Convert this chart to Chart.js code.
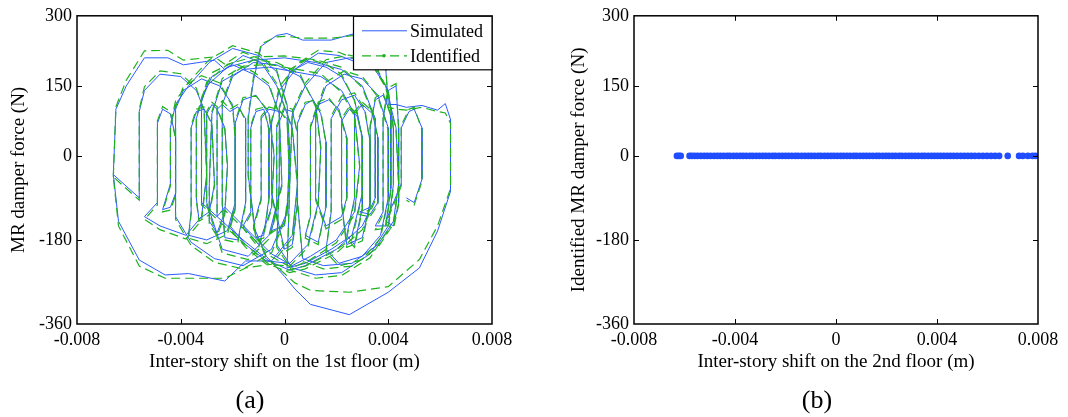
<!DOCTYPE html>
<html>
<head>
<meta charset="utf-8">
<title>MR damper force</title>
<script src="https://cdn.jsdelivr.net/npm/chart.js@4.4.0/dist/chart.umd.min.js"></script>
<style>
  html, body { margin: 0; padding: 0; background: #fff; }
  #wrap { position: relative; width: 1068px; height: 417px; overflow: hidden; }
  .panel { position: absolute; top: 0; width: 534px; height: 417px; }
  .tag { position: absolute; top: 386px; line-height: 28px; font-family: 'Liberation Serif', 'Times New Roman', serif; font-size: 26px; color: #000; transform: translateX(-50%); }
</style>
</head>
<body>
<div id="wrap">
  <div class="panel" style="left:0"><canvas id="floor1Chart" width="534" height="417"></canvas></div>
  <div class="panel" style="left:534px"><canvas id="floor2Chart" width="534" height="417"></canvas></div>
  <div class="tag" style="left:250px">(a)</div>
  <div class="tag" style="left:817px">(b)</div>
</div>
<script>
// 축 눈금
const shiftTicks = [-0.008, -0.004, 0, 0.004, 0.008];
const forceTicks = [-360, -180, 0, 150, 300];

// 1층 층간변위 - 감쇠력 [변위(m), 힘(N)] : 시뮬레이션
const simulated1st = [
    [-0.0066, -40], [-0.0065, 100], [-0.0061, 150], [-0.0054, 210], [-0.0045, 210], [-0.0039, 195], [-0.0027, 205], [-0.0023, 185], [-0.0016, 215], [-0.0009, 200], [-0.0003, 150], [0.0003, 60], [0.0005, -60], [0.0003, -170], [-0.0005, -225], [-0.0015, -225], [-0.0023, -268], [-0.0037, -252], [-0.0046, -255], [-0.0056, -223], [-0.0064, -140], [-0.0066, -40],
    [-0.0056, -90], [-0.0056, 95], [-0.0054, 140], [-0.0048, 175], [-0.0040, 170], [-0.0034, 140], [-0.0031, 100], [-0.0030, -40], [-0.0032, -130], [-0.0038, -170], [-0.0048, -150], [-0.0054, -130],
    [-0.0049, -100], [-0.0049, 70], [-0.0047, 100], [-0.0044, 90], [-0.0042, 40], [-0.0042, -80], [-0.0044, -110], [-0.0047, -115],
    [-0.0044, -60], [-0.0044, 60], [-0.0042, 110], [-0.0037, 150], [-0.0029, 200], [-0.0020, 230], [-0.0010, 215], [-0.0003, 180], [0.0001, 110], [0.0002, 10], [0.0001, -120], [-0.0005, -200], [-0.0016, -235], [-0.0027, -220], [-0.0036, -185], [-0.0042, -130],
    [-0.0042, -120], [-0.0042, 100], [-0.0039, 140], [-0.0032, 165], [-0.0025, 150], [-0.0020, 110], [-0.0019, 40], [-0.0019, -100], [-0.0022, -160], [-0.0030, -180], [-0.0037, -170],
    [-0.0036, -120], [-0.0036, 60], [-0.0034, 95], [-0.0031, 100], [-0.0028, 70], [-0.0027, -60], [-0.0029, -120], [-0.0033, -135],
    [-0.0034, -90], [-0.0034, 80], [-0.0030, 150], [-0.0022, 190], [-0.0012, 205], [0.0000, 210], [0.0012, 200], [0.0022, 185], [0.0030, 150], [0.0035, 80], [0.0035, -90], [0.0030, -150], [0.0020, -200], [0.0008, -235], [0.0002, -245], [-0.0006, -225], [-0.0016, -180], [-0.0026, -130],
    [-0.0032, -100], [-0.0032, 120], [-0.0028, 170], [-0.0020, 195], [-0.0012, 175], [-0.0006, 150], [-0.0002, 90], [-0.0001, -60], [-0.0006, -170], [-0.0014, -215], [-0.0024, -200],
    [-0.0030, -100], [-0.0030, 90], [-0.0028, 110], [-0.0026, 100], [-0.0023, 60], [-0.0022, -20], [-0.0023, -120], [-0.0026, -165], [-0.0029, -140],
    [-0.0029, -60], [-0.0028, 90], [-0.0024, 160], [-0.0016, 185], [-0.0006, 190], [0.0004, 180], [0.0014, 170], [0.0022, 140], [0.0027, 90], [0.0029, -20], [0.0027, -120], [0.0020, -180], [0.0010, -215], [0.0003, -235], [-0.0005, -210], [-0.0014, -160], [-0.0023, -110],
    [-0.0026, -130], [-0.0026, 100], [-0.0024, 110], [-0.0021, 95], [-0.0018, 105], [-0.0015, 80], [-0.0015, -100], [-0.0018, -180], [-0.0023, -175],
    [-0.0024, -100], [-0.0024, 110], [-0.0020, 170], [-0.0012, 200], [-0.0003, 195], [0.0006, 170], [0.0012, 110], [0.0014, 20], [0.0013, -100], [0.0009, -190], [0.0002, -230], [-0.0007, -225], [-0.0015, -190], [-0.0021, -150],
    [-0.0019, -110], [-0.0019, 70], [-0.0016, 120], [-0.0011, 130], [-0.0006, 90], [-0.0004, 0], [-0.0005, -110], [-0.0010, -190], [-0.0016, -150],
    [-0.0013, -120], [-0.0013, 60], [-0.0011, 95], [-0.0008, 100], [-0.0006, 60], [-0.0006, -90], [-0.0008, -170], [-0.0011, -175],
    [-0.0014, -40], [-0.0014, 80], [-0.0012, 160], [-0.0009, 235], [-0.0003, 258], [0.0001, 262], [0.0007, 248], [0.0018, 248], [0.0027, 262], [0.0034, 265], [0.0039, 190], [0.0040, 110], [0.0043, 110], [0.0047, 104], [0.0053, 108], [0.0059, 98], [0.0062, 112], [0.0064, 78], [0.0064, -76], [0.0059, -161], [0.0052, -240], [0.0040, -292], [0.0025, -340], [0.0010, -318], [0.0004, -285], [0.0000, -258], [-0.0007, -215], [-0.0012, -150],
    [-0.0009, -90], [-0.0009, 80], [-0.0006, 100], [-0.0002, 95], [0.0001, 80], [0.0002, -60], [0.0000, -150], [-0.0005, -160],
    [-0.0003, -110], [-0.0003, 60], [0.0000, 100], [0.0003, 95], [0.0005, 50], [0.0005, -100], [0.0003, -190], [0.0000, -200],
    [-0.0005, -80], [-0.0005, 70], [-0.0002, 140], [0.0005, 190], [0.0013, 220], [0.0021, 215], [0.0028, 200], [0.0035, 190], [0.0040, 140], [0.0042, 60], [0.0042, -60], [0.0040, -150], [0.0033, -210], [0.0022, -250], [0.0012, -255], [0.0003, -240], [-0.0003, -190],
    [-0.0002, -50], [-0.0002, 100], [0.0002, 180], [0.0009, 200], [0.0016, 190], [0.0022, 170], [0.0027, 120], [0.0030, 40], [0.0030, -80], [0.0026, -170], [0.0018, -200], [0.0008, -230], [0.0001, -240],
    [0.0002, -60], [0.0003, 90], [0.0008, 150], [0.0016, 200], [0.0025, 210], [0.0033, 200], [0.0039, 150], [0.0043, 60], [0.0044, -60], [0.0042, -140], [0.0036, -190], [0.0026, -230], [0.0015, -235], [0.0007, -220],
    [0.0005, -100], [0.0005, 70], [0.0008, 110], [0.0011, 120], [0.0014, 90], [0.0016, 30], [0.0016, -110], [0.0013, -185], [0.0008, -170],
    [0.0010, -130], [0.0010, 60], [0.0013, 110], [0.0017, 120], [0.0021, 100], [0.0024, 40], [0.0024, -90], [0.0022, -130], [0.0016, -150],
    [0.0012, -90], [0.0012, 90], [0.0016, 150], [0.0023, 175], [0.0030, 165], [0.0036, 130], [0.0040, 60], [0.0040, -90], [0.0037, -170], [0.0030, -215], [0.0021, -230], [0.0016, -200],
    [0.0018, -120], [0.0018, 80], [0.0022, 120], [0.0027, 130], [0.0031, 95], [0.0033, 30], [0.0033, -100], [0.0030, -175], [0.0024, -190],
    [0.0022, -100], [0.0022, 75], [0.0025, 100], [0.0028, 85], [0.0030, 40], [0.0030, -110], [0.0027, -190], [0.0024, -170],
    [0.0027, -90], [0.0027, 90], [0.0030, 110], [0.0034, 90], [0.0036, 40], [0.0036, -100], [0.0033, -125], [0.0029, -120],
    [0.0033, -110], [0.0033, 60], [0.0035, 120], [0.0038, 130], [0.0041, 90], [0.0041, -70], [0.0039, -150], [0.0035, -150],
    [0.0038, -120], [0.0038, 80], [0.0040, 140], [0.0043, 150], [0.0044, 60], [0.0044, -100], [0.0042, -150], [0.0039, -140],
    [0.0045, -60], [0.0045, 60], [0.0048, 95], [0.0050, 100], [0.0053, 60], [0.0053, -50], [0.0050, -100], [0.0047, -90]
];

// 1층 층간변위 - 감쇠력 : 식별 결과
const identified1st = [
    [-0.0066, -45], [-0.0065, 105], [-0.0061, 162], [-0.0054, 225], [-0.0045, 226], [-0.0039, 205], [-0.0027, 212], [-0.0023, 196], [-0.0016, 222], [-0.0009, 206], [-0.0003, 155], [0.0003, 55], [0.0005, -65], [0.0003, -176], [-0.0005, -232], [-0.0015, -240], [-0.0023, -262], [-0.0037, -262], [-0.0046, -262], [-0.0056, -236], [-0.0064, -150], [-0.0066, -45],
    [-0.0056, -95], [-0.0056, 100], [-0.0054, 148], [-0.0048, 182], [-0.0040, 176], [-0.0034, 145], [-0.0031, 95], [-0.0030, -45], [-0.0032, -138], [-0.0038, -178], [-0.0048, -158], [-0.0054, -136],
    [-0.0049, -105], [-0.0049, 75], [-0.0047, 106], [-0.0044, 95], [-0.0042, 35], [-0.0042, -85], [-0.0044, -116], [-0.0047, -120],
    [-0.0044, -65], [-0.0044, 65], [-0.0042, 118], [-0.0037, 158], [-0.0029, 206], [-0.0020, 236], [-0.0010, 220], [-0.0003, 184], [0.0001, 105], [0.0002, 5], [0.0001, -126], [-0.0005, -208], [-0.0016, -242], [-0.0027, -228], [-0.0036, -192], [-0.0042, -136],
    [-0.0042, -125], [-0.0042, 105], [-0.0039, 148], [-0.0032, 172], [-0.0025, 156], [-0.0020, 105], [-0.0019, 35], [-0.0019, -105], [-0.0022, -168], [-0.0030, -188], [-0.0037, -176],
    [-0.0036, -125], [-0.0036, 65], [-0.0034, 100], [-0.0031, 105], [-0.0028, 65], [-0.0027, -65], [-0.0029, -126], [-0.0033, -140],
    [-0.0034, -95], [-0.0034, 85], [-0.0030, 158], [-0.0022, 196], [-0.0012, 212], [0.0000, 214], [0.0012, 206], [0.0022, 190], [0.0030, 146], [0.0035, 75], [0.0035, -95], [0.0030, -158], [0.0020, -208], [0.0008, -242], [0.0002, -250], [-0.0006, -232], [-0.0016, -186], [-0.0026, -136],
    [-0.0032, -105], [-0.0032, 125], [-0.0028, 178], [-0.0020, 200], [-0.0012, 180], [-0.0006, 155], [-0.0002, 85], [-0.0001, -65], [-0.0006, -178], [-0.0014, -222], [-0.0024, -208],
    [-0.0030, -105], [-0.0030, 95], [-0.0028, 115], [-0.0026, 105], [-0.0023, 55], [-0.0022, -25], [-0.0023, -125], [-0.0026, -172], [-0.0029, -145],
    [-0.0029, -65], [-0.0028, 95], [-0.0024, 166], [-0.0016, 192], [-0.0006, 196], [0.0004, 186], [0.0014, 176], [0.0022, 136], [0.0027, 85], [0.0029, -25], [0.0027, -126], [0.0020, -186], [0.0010, -222], [0.0003, -240], [-0.0005, -216], [-0.0014, -166], [-0.0023, -116],
    [-0.0026, -125], [-0.0026, 105], [-0.0024, 118], [-0.0021, 100], [-0.0018, 110], [-0.0015, 75], [-0.0015, -105], [-0.0018, -186], [-0.0023, -180],
    [-0.0024, -105], [-0.0024, 115], [-0.0020, 176], [-0.0012, 206], [-0.0003, 200], [0.0006, 175], [0.0012, 105], [0.0014, 15], [0.0013, -105], [0.0009, -196], [0.0002, -236], [-0.0007, -232], [-0.0015, -196], [-0.0021, -156],
    [-0.0019, -115], [-0.0019, 75], [-0.0016, 125], [-0.0011, 128], [-0.0006, 95], [-0.0004, 5], [-0.0005, -115], [-0.0010, -196], [-0.0016, -155],
    [-0.0013, -125], [-0.0013, 65], [-0.0011, 100], [-0.0008, 104], [-0.0006, 55], [-0.0006, -95], [-0.0008, -176], [-0.0011, -180],
    [-0.0014, -45], [-0.0014, 85], [-0.0012, 168], [-0.0009, 240], [-0.0003, 255], [0.0001, 256], [0.0007, 252], [0.0018, 252], [0.0027, 258], [0.0034, 258], [0.0039, 196], [0.0040, 104], [0.0043, 100], [0.0047, 98], [0.0053, 104], [0.0059, 95], [0.0062, 92], [0.0064, 70], [0.0064, -70], [0.0059, -150], [0.0052, -222], [0.0040, -280], [0.0025, -292], [0.0010, -288], [0.0004, -272], [0.0000, -252], [-0.0007, -218], [-0.0012, -156],
    [-0.0009, -95], [-0.0009, 85], [-0.0006, 105], [-0.0002, 98], [0.0001, 75], [0.0002, -55], [0.0000, -145], [-0.0005, -165],
    [-0.0003, -115], [-0.0003, 65], [0.0000, 106], [0.0003, 100], [0.0005, 45], [0.0005, -105], [0.0003, -196], [0.0000, -206],
    [-0.0005, -85], [-0.0005, 75], [-0.0002, 148], [0.0005, 198], [0.0013, 226], [0.0021, 222], [0.0028, 206], [0.0035, 195], [0.0040, 138], [0.0042, 55], [0.0042, -65], [0.0040, -158], [0.0033, -218], [0.0022, -256], [0.0012, -262], [0.0003, -246], [-0.0003, -196],
    [-0.0002, -55], [-0.0002, 105], [0.0002, 185], [0.0009, 208], [0.0016, 196], [0.0022, 175], [0.0027, 118], [0.0030, 35], [0.0030, -85], [0.0026, -178], [0.0018, -208], [0.0008, -236], [0.0001, -245],
    [0.0002, -65], [0.0003, 95], [0.0008, 156], [0.0016, 206], [0.0025, 216], [0.0033, 204], [0.0039, 146], [0.0043, 55], [0.0044, -65], [0.0042, -146], [0.0036, -196], [0.0026, -236], [0.0015, -242], [0.0007, -226],
    [0.0005, -95], [0.0005, 75], [0.0008, 115], [0.0011, 118], [0.0014, 95], [0.0016, 25], [0.0016, -105], [0.0013, -190], [0.0008, -176],
    [0.0010, -125], [0.0010, 65], [0.0013, 115], [0.0017, 125], [0.0021, 95], [0.0024, 35], [0.0024, -95], [0.0022, -136], [0.0016, -156],
    [0.0012, -95], [0.0012, 95], [0.0016, 158], [0.0023, 182], [0.0030, 170], [0.0036, 126], [0.0040, 55], [0.0040, -95], [0.0037, -176], [0.0030, -222], [0.0021, -236], [0.0016, -206],
    [0.0018, -115], [0.0018, 85], [0.0022, 128], [0.0027, 135], [0.0031, 100], [0.0033, 25], [0.0033, -105], [0.0030, -182], [0.0024, -196],
    [0.0022, -105], [0.0022, 80], [0.0025, 106], [0.0028, 90], [0.0030, 35], [0.0030, -115], [0.0027, -196], [0.0024, -176],
    [0.0027, -95], [0.0027, 95], [0.0030, 115], [0.0034, 95], [0.0036, 35], [0.0036, -105], [0.0033, -130], [0.0029, -126],
    [0.0033, -115], [0.0033, 65], [0.0035, 125], [0.0038, 135], [0.0041, 85], [0.0041, -75], [0.0039, -155], [0.0035, -158],
    [0.0038, -125], [0.0038, 85], [0.0040, 146], [0.0043, 155], [0.0044, 55], [0.0044, -105], [0.0042, -156], [0.0039, -146],
    [0.0045, -65], [0.0045, 65], [0.0048, 100], [0.0050, 104], [0.0053, 55], [0.0053, -55], [0.0050, -105], [0.0047, -95]
];

// 2층 층간변위 (식별된 감쇠력은 모두 0 N)
const shift2nd = [
    -0.0063, -0.00622, -0.00615, -0.0058, -0.00571, -0.0056, -0.00548, -0.00535, -0.00522, -0.0051,
    -0.00497, -0.00483, -0.0047, -0.00458, -0.00445, -0.00431, -0.0042, -0.00406, -0.00393, -0.0038,
    -0.00368, -0.00355, -0.00341, -0.0033, -0.00316, -0.00303, -0.0029, -0.00278, -0.00265, -0.00251,
    -0.0024, -0.00226, -0.00213, -0.002, -0.00188, -0.00175, -0.00161, -0.0015, -0.00136, -0.00123,
    -0.0011, -0.00098, -0.00085, -0.00071, -0.0006, -0.00046, -0.00033, -0.0002, -0.00008, 0.00005,
    0.00018, 0.0003, 0.00043, 0.00056, 0.0007, 0.00081, 0.00095, 0.00108, 0.0012, 0.00133,
    0.00146, 0.0016, 0.00171, 0.00185, 0.00198, 0.0021, 0.00223, 0.00236, 0.0025, 0.00261,
    0.00275, 0.00288, 0.003, 0.00313, 0.00326, 0.0034, 0.00351, 0.00365, 0.00378, 0.0039,
    0.00402, 0.00414, 0.00427, 0.0044, 0.00453, 0.00466, 0.0048, 0.00494, 0.00508, 0.00522,
    0.00536, 0.0055, 0.00566, 0.00582, 0.00598, 0.00614, 0.0063, 0.00646, 0.0068, 0.00725,
    0.0074, 0.0076, 0.00778, 0.0079
];
const force2nd = 0;

const serif = "'Liberation Serif', 'Times New Roman', serif";
const BLUE = '#2a5bff';
const GREEN = '#1fb21f';

// 네 변 모두 안쪽 눈금 + 테두리
const boxFrame = {
    id: 'boxFrame',
    afterDatasetsDraw(chart) {
        const { ctx, chartArea: a, scales: { x, y } } = chart;
        const len = 5;
        ctx.save();
        ctx.strokeStyle = '#000';
        ctx.lineWidth = 1;
        ctx.beginPath();
        x.ticks.forEach((t, i) => {
            if (i === 0 || i === x.ticks.length - 1) return;
            const px = Math.round(x.getPixelForValue(t.value)) + 0.5;
            ctx.moveTo(px, a.bottom); ctx.lineTo(px, a.bottom - len);
            ctx.moveTo(px, a.top); ctx.lineTo(px, a.top + len);
        });
        y.ticks.forEach((t, i) => {
            if (i === 0 || i === y.ticks.length - 1) return;
            const py = Math.round(y.getPixelForValue(t.value)) + 0.5;
            ctx.moveTo(a.left, py); ctx.lineTo(a.left + len, py);
            ctx.moveTo(a.right, py); ctx.lineTo(a.right - len, py);
        });
        ctx.stroke();
        ctx.lineWidth = 1.5;
        ctx.strokeRect(a.left, a.top, a.right - a.left, a.bottom - a.top);
        ctx.restore();
    }
};

// 오른쪽 위 범례 상자
const legendBox = {
    id: 'legendBox',
    afterDraw(chart) {
        const { ctx, chartArea: a } = chart;
        const ds = chart.data.datasets;
        const left = a.right - 139, top = a.top, w = 139, h = 54;
        ctx.save();
        ctx.fillStyle = '#fff';
        ctx.fillRect(left, top, w, h);
        ctx.strokeStyle = '#000';
        ctx.lineWidth = 1.2;
        ctx.strokeRect(left + 0.5, top + 0.5, w - 0.5, h - 0.5);

        ctx.font = '18px ' + serif;
        ctx.textBaseline = 'middle';
        ds.forEach((d, i) => {
            const ly = top + 15 + i * 25;
            ctx.strokeStyle = d.borderColor;
            ctx.lineWidth = d.borderWidth;
            ctx.setLineDash(d.borderDash || []);
            ctx.beginPath();
            ctx.moveTo(left + 9, ly);
            ctx.lineTo(left + 54, ly);
            ctx.stroke();
            ctx.setLineDash([]);
            if (d.borderDash) {
                ctx.fillStyle = d.borderColor;
                ctx.beginPath();
                ctx.arc(left + 31, ly, 1.8, 0, Math.PI * 2);
                ctx.fill();
            }
            ctx.fillStyle = '#000';
            ctx.fillText(d.label, left + 57, ly + 1);
        });
        ctx.restore();
    }
};

function formatTick(v) {
    return v === 0 ? '0' : String(v);
}

// x, y 축 공통 설정
function buildScales(xTitle, yTitle, yAxisWidth, yTitlePad) {
    return {
        x: {
            type: 'linear',
            min: -0.008,
            max: 0.008,
            grid: { display: false, drawTicks: false },
            border: { display: false },
            afterBuildTicks: s => { s.ticks = shiftTicks.map(v => ({ value: v })); },
            afterFit: s => { s.height = 93; },
            ticks: {
                color: '#000',
                padding: 5,
                maxRotation: 0,
                autoSkip: false,
                font: { family: serif, size: 18 },
                callback: v => formatTick(v)
            },
            title: {
                display: true,
                text: xTitle,
                color: '#000',
                font: { family: serif, size: 19 },
                padding: { top: 0, bottom: 43.6 }
            }
        },
        y: {
            type: 'linear',
            min: -360,
            max: 300,
            grid: { display: false, drawTicks: false },
            border: { display: false },
            afterBuildTicks: s => { s.ticks = forceTicks.map(v => ({ value: v })); },
            afterFit: s => { s.width = yAxisWidth; },
            ticks: {
                color: '#000',
                padding: 5,
                autoSkip: false,
                font: { family: serif, size: 18 },
                callback: v => formatTick(v)
            },
            title: {
                display: true,
                text: yTitle,
                color: '#000',
                font: { family: serif, size: 19 },
                padding: { top: yTitlePad, bottom: 0 }
            }
        }
    };
}

// (a) 1층 이력곡선
function renderFloor1Chart() {
    const ctx = document.getElementById('floor1Chart').getContext('2d');
    window.floor1Chart = new Chart(ctx, {
        type: 'scatter',
        data: {
            datasets: [{
                label: 'Simulated',
                data: simulated1st.map(p => ({ x: p[0], y: p[1] })),
                showLine: true,
                borderColor: BLUE,
                borderWidth: 1,
                pointRadius: 0,
                order: 1
            }, {
                label: 'Identified',
                data: identified1st.map(p => ({ x: p[0], y: p[1] })),
                showLine: true,
                borderColor: GREEN,
                borderWidth: 1.2,
                borderDash: [9, 5],
                pointRadius: 0,
                order: 0
            }]
        },
        options: {
            responsive: false,
            animation: false,
            layout: { padding: { top: 13, right: 42, left: 0, bottom: 0 } },
            plugins: { legend: { display: false }, tooltip: { enabled: false } },
            scales: buildScales('Inter-story shift on the 1st floor (m)', 'MR damper force (N)', 77, 7.6)
        },
        plugins: [boxFrame, legendBox]
    });
}

// (b) 2층 식별 감쇠력
function renderFloor2Chart() {
    const ctx = document.getElementById('floor2Chart').getContext('2d');
    window.floor2Chart = new Chart(ctx, {
        type: 'scatter',
        data: {
            datasets: [{
                label: 'Identified',
                data: shift2nd.map(x => ({ x: x, y: force2nd })),
                pointRadius: 3.3,
                pointBorderWidth: 0,
                pointBackgroundColor: '#1f4dff'
            }]
        },
        options: {
            responsive: false,
            animation: false,
            layout: { padding: { top: 15, right: 30, left: 0, bottom: 0 } },
            plugins: { legend: { display: false }, tooltip: { enabled: false } },
            scales: buildScales('Inter-story shift on the 2nd floor (m)', 'Identified MR damper force (N)', 100, 33.6)
        },
        plugins: [boxFrame]
    });
}

renderFloor1Chart();
renderFloor2Chart();
</script>
</body>
</html>
